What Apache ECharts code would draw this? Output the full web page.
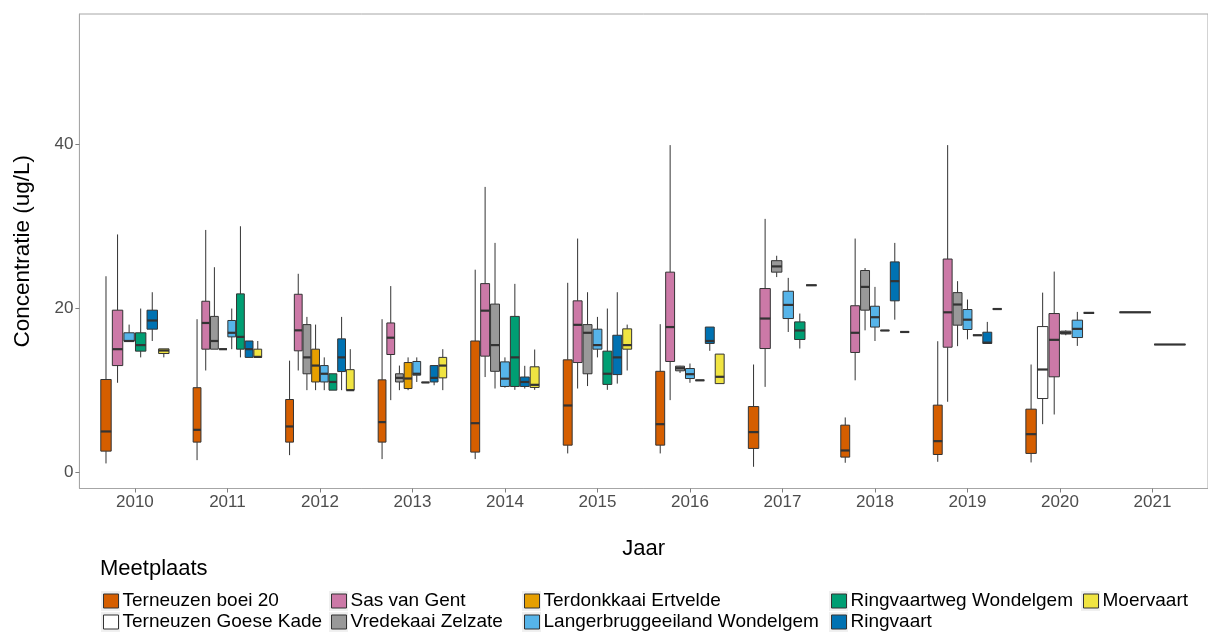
<!DOCTYPE html>
<html>
<head>
<meta charset="utf-8">
<script src="https://cdn.jsdelivr.net/npm/echarts@6/dist/echarts.min.js"></script>
<style>
html,body{margin:0;padding:0;background:#fff;}
#chart{width:1208px;height:632px;}
</style>
</head>
<body>
<div id="chart"></div>
<script>
// ---- data ----
const years = ['2010','2011','2012','2013','2014','2015','2016','2017','2018','2019','2020','2021'];
const stations = ['Terneuzen boei 20','Terneuzen Goese Kade','Sas van Gent','Vredekaai Zelzate','Terdonkkaai Ertvelde','Langerbruggeeiland Wondelgem','Ringvaartweg Wondelgem','Ringvaart','Moervaart'];
// each entry: [min, q1, median, q3, max] per year, null when not measured
const terneuzenBoei20 = [
  [1.06,2.56,4.96,11.3,23.9],
  [1.46,3.66,5.16,10.3,18.66],
  [2.07,3.66,5.57,8.86,13.6],
  [1.59,3.66,6.1,11.26,18.66],
  [1.59,2.44,5.97,16.0,24.7],
  [2.28,3.29,8.13,13.7,23.1],
  [2.28,3.29,5.85,12.3,18.05],
  [0.65,2.89,4.88,8.0,13.13],
  [1.14,1.83,2.64,5.73,6.67],
  [1.26,2.15,3.78,8.17,15.97],
  [1.18,2.28,4.63,7.68,13.13],
  null];
const terneuzenGoeseKade = [null,null,null,null,null,null,null,null,null,null,
  [5.85,8.98,12.52,17.76,21.9], null];
const sasVanGent = [
  [10.9,13.0,15.0,19.76,29.0],
  [12.4,15.0,18.2,20.85,29.55],
  [12.4,14.8,17.3,21.7,24.2],
  [8.78,14.35,16.4,18.2,22.7],
  [11.6,14.15,19.7,23.0,34.8],
  [10.2,13.37,17.97,20.9,28.5],
  [8.78,13.5,17.7,24.4,39.9],
  [10.4,15.08,18.74,22.4,30.9],
  [11.2,14.6,17.0,20.3,28.5],
  [8.58,15.24,19.5,26.0,39.9],
  [7.03,11.63,16.14,19.35,24.47],
  null];
const vredekaaiZelzate = [
  null,
  [15.0,15.0,16.0,19.0,25.0],
  [10.0,12.0,14.0,18.0,18.94],
  [10.0,11.0,11.5,12.0,13.0],
  [10.2,12.3,15.5,20.5,27.97],
  [10.5,12.0,17.0,18.0,21.95],
  [12.1,12.36,12.68,12.93,12.97],
  [23.8,24.4,25.1,25.8,26.4],
  [17.3,19.76,22.6,24.6,24.9],
  [15.37,17.93,20.45,21.9,23.3],
  [16.7,16.85,17.0,17.2,17.3],
  null];
const terdonkkaaiErtvelde = [
  null,
  [15.0,15.0,15.0,15.0,15.0],
  [10.0,11.0,13.0,15.0,18.0],
  [10.0,10.2,11.42,13.37,14.0],
  null,null,null,null,null,null,null,null];
const langerbruggeeiland = [
  [16.0,16.0,16.0,17.0,18.0],
  [15.0,16.5,17.0,18.5,19.96],
  [10.0,11.0,12.0,13.0,14.0],
  [11.0,11.83,12.0,13.5,14.0],
  [10.3,10.45,11.4,13.45,14.0],
  [14.0,15.0,15.5,17.44,18.94],
  [10.9,11.42,11.95,12.64,13.25],
  [17.1,18.74,20.4,22.07,23.7],
  [16.0,17.7,18.9,20.24,22.6],
  [16.2,17.4,18.6,19.84,21.06],
  [15.4,16.42,17.48,18.54,19.55],
  [19.5,19.5,19.5,19.5,19.5]];
const ringvaartwegWondelgem = [
  [14.0,14.76,15.5,17.0,19.96],
  [14.0,15.0,16.5,21.75,30.0],
  [10.0,10.0,11.0,12.0,12.0],
  [10.94,10.94,10.94,10.94,10.94],
  [10.04,10.45,14.0,19.0,22.97],
  [10.04,10.7,12.0,14.76,19.96],
  [11.2,11.2,11.2,11.2,11.2],
  [15.08,16.18,17.28,18.33,19.35],
  [17.28,17.28,17.28,17.28,17.28],
  [16.7,16.7,16.7,16.7,16.7],
  null,
  null];
const ringvaart = [
  [16.0,17.44,18.5,19.76,21.95],
  [14.0,14.0,15.0,16.0,16.0],
  [10.0,12.27,14.0,16.26,18.94],
  [10.6,11.0,11.5,13.0,13.0],
  [10.2,10.45,11.0,11.6,12.97],
  [10.8,11.9,14.0,16.7,21.95],
  [14.8,15.7,16.0,17.7,17.7],
  [22.8,22.8,22.8,22.8,22.8],
  [18.6,20.9,23.3,25.65,27.97],
  [15.7,15.7,15.8,17.07,18.33],
  null,
  null];
const moervaart = [
  [14.0,14.47,14.84,15.04,15.04],
  [14.0,14.0,14.06,15.0,16.0],
  [10.0,10.0,10.0,12.5,15.0],
  [10.0,11.5,13.0,14.0,15.0],
  [10.04,10.33,10.65,12.85,14.96],
  [12.4,15.0,15.5,17.48,18.0],
  [10.8,10.8,11.63,14.4,14.4],
  null,
  [17.1,17.1,17.1,17.1,17.1],
  [19.9,19.9,19.9,19.9,19.9],
  [19.43,19.43,19.43,19.43,19.43],
  [15.57,15.57,15.57,15.57,15.57]];
const yTicks = [0, 20, 40];

const stationData = [terneuzenBoei20, terneuzenGoeseKade, sasVanGent, vredekaaiZelzate,
  terdonkkaaiErtvelde, langerbruggeeiland, ringvaartwegWondelgem, ringvaart, moervaart];
const colors = ['#D55E00','#FFFFFF','#CC79A7','#999999','#E69F00','#56B4E9','#009E73','#0072B2','#F0E442'];

// which stations are present in each year (dodging like ggplot's position_dodge2)
const present = years.map((y, yi) => stationData.map((arr, si) => arr[yi] ? si : -1).filter(s => s >= 0));

const FONT = 'Liberation Sans, Arial, sans-serif';
const TOTAL = 0.75;

function makeRender(si) {
  return function (params, api) {
    const xi = api.value(0);
    const vals = [api.value(1), api.value(2), api.value(3), api.value(4), api.value(5)];
    const pres = present[xi];
    const n = pres.length;
    const k = pres.indexOf(si);
    const cx = xi - TOTAL / 2 + (k + 0.5) * TOTAL / n;
    const band = api.size([1, 0])[0];
    const w = band * TOTAL / n * 0.9;
    const p = vals.map(v => api.coord([cx, v]));
    const x = p[0][0];
    const stroke = '#333333';
    return {
      type: 'group',
      children: [
        {type: 'line', shape: {x1: x, y1: p[3][1], x2: x, y2: p[4][1]}, style: {stroke: stroke, lineWidth: 1}},
        {type: 'line', shape: {x1: x, y1: p[1][1], x2: x, y2: p[0][1]}, style: {stroke: stroke, lineWidth: 1}},
        {type: 'rect', shape: {x: x - w / 2, y: p[3][1], width: w, height: Math.max(0, p[1][1] - p[3][1])},
          style: {fill: colors[si], stroke: stroke, lineWidth: 1}},
        {type: 'line', shape: {x1: x - w / 2, y1: p[2][1], x2: x + w / 2, y2: p[2][1]}, style: {stroke: stroke, lineWidth: 2.2}}
      ]
    };
  };
}

const series = stations.map((name, si) => ({
  name: name,
  type: 'custom',
  renderItem: makeRender(si),
  itemStyle: {color: colors[si]},
  encode: {x: 0, y: [1, 2, 3, 4, 5]},
  data: stationData[si].map((v, yi) => v ? [yi].concat(v) : null).filter(d => d)
}));

const legendCols = [
  {left: 103, data: [stations[0], stations[1]]},
  {left: 331, data: [stations[2], stations[3]]},
  {left: 524, data: [stations[4], stations[5]]},
  {left: 831, data: [stations[6], stations[7]]},
  {left: 1083, data: [stations[8]]}
];
const ROW_TOP = 591.5, ROW_PITCH = 21;

// grey key backgrounds (ggplot legend keys)
const keyBgs = [];
legendCols.forEach(c => c.data.forEach((d, r) => {
  keyBgs.push({type: 'rect', z: 0, shape: {x: c.left - 2, y: ROW_TOP + r * ROW_PITCH - 0.5, width: 19, height: 20},
    style: {fill: '#F0F0F0'}});
}));

const chart = echarts.init(document.getElementById('chart'), null, {renderer: 'canvas'});
chart.setOption({
  animation: false,
  backgroundColor: '#ffffff',
  grid: {left: 79.4, top: 14, width: 1136.5, height: 474.5, show: true, borderColor: '#A6A6A6', borderWidth: 1, containLabel: false},
  xAxis: {
    type: 'value', min: -0.6, max: 11.6,
    name: 'Jaar', nameLocation: 'middle', nameGap: 49,
    nameTextStyle: {fontFamily: FONT, fontSize: 22, color: '#000'},
    axisLine: {show: true, onZero: false, lineStyle: {color: '#A6A6A6', width: 1}},
    axisTick: {show: true, length: 4, lineStyle: {color: '#7F7F7F'}, customValues: years.map((y, i) => i)},
    axisLabel: {customValues: years.map((y, i) => i), formatter: v => years[Math.round(v)], fontFamily: FONT, fontSize: 17, color: '#4D4D4D', margin: 5},
    splitLine: {show: false}
  },
  yAxis: {
    type: 'value', min: -2.0, max: 55.9,
    name: 'Concentratie (ug/L)', nameLocation: 'middle', nameGap: 45, nameRotate: 90,
    nameTextStyle: {fontFamily: FONT, fontSize: 22.5, color: '#000'},
    axisLine: {show: true, onZero: false, lineStyle: {color: '#A6A6A6', width: 1}},
    axisTick: {show: true, length: 4, lineStyle: {color: '#7F7F7F'}, customValues: yTicks},
    axisLabel: {customValues: yTicks, fontFamily: FONT, fontSize: 17, color: '#4D4D4D', margin: 6},
    splitLine: {show: false}
  },
  legend: legendCols.map(c => ({
    orient: 'vertical', left: c.left, top: ROW_TOP, height: 60, data: c.data,
    itemWidth: 15, itemHeight: 14, itemGap: 2, icon: 'rect', padding: 0,
    itemStyle: {borderColor: '#333333', borderWidth: 1},
    textStyle: {fontFamily: FONT, fontSize: 19, lineHeight: 19, color: '#000', padding: [0, 0, 0, -1]},
    selectedMode: false
  })),
  graphic: keyBgs.concat([
    {type: 'text', left: 100, top: 558, style: {text: 'Meetplaats', font: '22px ' + FONT, fill: '#000'}}
  ]),
  series: series
});
</script>
</body>
</html>
